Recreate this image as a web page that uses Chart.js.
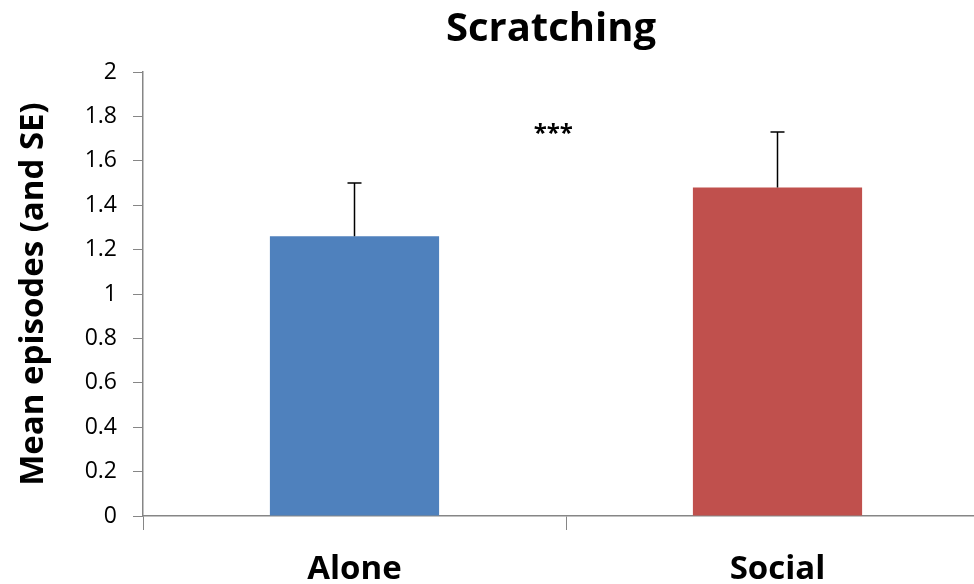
<!DOCTYPE html>
<html>
<head>
<meta charset="utf-8">
<script src="https://cdn.jsdelivr.net/npm/chart.js@4"></script>
<style>
  html, body { margin:0; padding:0; background:#fff; overflow:hidden; }
  #wrap { width:1102px; height:584px; }
</style>
</head>
<body>
<div id="wrap"><canvas id="c" width="1102" height="584"></canvas></div>
<script>
// Scratching — media de episodios con error estándar (solo hacia arriba)
const categories = ['Alone', 'Social'];
const means = [1.26, 1.48];
const errTop = [1.50, 1.73];
const barColors = ['#4F81BD', '#C0504D'];
const yTicks = [0, 0.2, 0.4, 0.6, 0.8, 1, 1.2, 1.4, 1.6, 1.8, 2];
const sigLabel = '***';
const sigPos = [0.47, 1.72]; // entre categorías, en unidades del eje

const errorBars = {
  id: 'errorBars',
  afterDatasetsDraw(chart){
    const ctx = chart.ctx, y = chart.scales.y;
    const meta = chart.getDatasetMeta(0);
    ctx.save();
    ctx.strokeStyle = '#000';
    ctx.lineWidth = 1.5;
    meta.data.forEach((bar, i) => {
      const yTop = y.getPixelForValue(errTop[i]);
      const yBase = y.getPixelForValue(means[i]);
      ctx.beginPath();
      ctx.moveTo(bar.x, yBase); ctx.lineTo(bar.x, yTop);
      ctx.moveTo(bar.x - 7, yTop); ctx.lineTo(bar.x + 7, yTop);
      ctx.stroke();
    });
    // asteriscos de significancia
    const x = chart.scales.x;
    ctx.fillStyle = '#000';
    ctx.font = 'bold 24px "Open Sans", sans-serif';
    ctx.textAlign = 'center';
    ctx.textBaseline = 'middle';
    ctx.fillText(sigLabel, x.getPixelForValue(sigPos[0]), y.getPixelForValue(sigPos[1]));
    ctx.restore();
  }
};

new Chart(document.getElementById('c'), {
  type: 'bar',
  data: {
    labels: categories,
    datasets: [{
      data: means,
      backgroundColor: barColors,
      borderWidth: 0,
      categoryPercentage: 1,
      barPercentage: 0.4
    }]
  },
  options: {
    responsive: false,
    animation: false,
    layout: { padding: 0 },
    plugins: {
      legend: { display: false },
      tooltip: { enabled: false },
      title: {
        display: true,
        text: 'Scratching',
        color: '#000',
        font: { family: '"Open Sans", sans-serif', size: 40, weight: 'bold' },
        padding: { top: 6, bottom: 18 }
      }
    },
    scales: {
      x: {
        offset: true,
        grid: { offset: true, drawOnChartArea: false, color: '#868686', tickLength: 14 },
        border: { color: '#868686', width: 1.5 },
        ticks: { color: '#000', padding: 20, font: { family: '"Open Sans", sans-serif', size: 33, weight: 'bold' } },
        afterFit(s){ s.height = 68; }
      },
      y: {
        min: 0, max: 2,
        afterBuildTicks(s){ s.ticks = yTicks.map(v => ({ value: v })); },
        grid: { drawOnChartArea: false, color: '#868686', tickLength: 10 },
        border: { color: '#868686', width: 1.5 },
        ticks: {
          color: '#000', padding: 16,
          font: { family: '"Open Sans", sans-serif', size: 23 },
          callback: v => String(v)
        },
        title: {
          display: true,
          text: 'Mean episodes (and SE)',
          color: '#000',
          font: { family: '"Open Sans", sans-serif', size: 33, weight: 'bold' },
          padding: { top: 14, bottom: 0 }
        },
        afterFit(s){ s.width = 143; }
      },
      // eje vacío a la derecha: el gráfico original sigue más allá del recorte
      y2: {
        position: 'right',
        display: true,
        grid: { display: false },
        border: { display: false },
        ticks: { display: false },
        afterFit(s){ s.width = 113; }
      }
    }
  },
  plugins: [errorBars]
});
</script>
</body>
</html>
